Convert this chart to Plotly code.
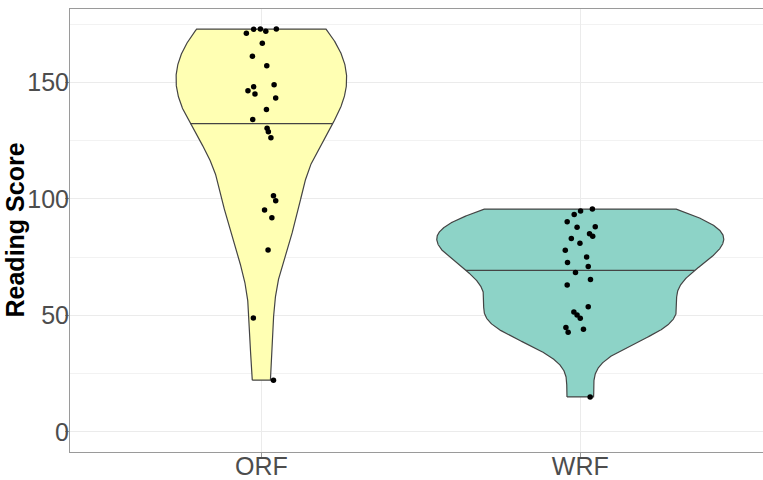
import numpy as np
import plotly.graph_objects as go

categories = ["ORF", "WRF"]
orf_scores = [171.1, 172.8, 172.9, 172.0, 172.9, 166.8, 161.2, 157.1, 149.0, 146.4,
              148.1, 145.0, 143.3, 138.4, 134.1, 130.3, 128.8, 126.2, 101.3, 99.2,
              95.2, 91.9, 78.1, 48.9, 22.2]
orf_jitter = [-0.047, -0.024, -0.003, 0.014, 0.047, 0.003, -0.028, 0.017, 0.040, -0.042,
              -0.024, -0.020, 0.045, 0.016, -0.027, 0.018, 0.022, 0.030, 0.038, 0.045,
              0.010, 0.033, 0.021, -0.025, 0.038]
wrf_scores = [95.6, 94.8, 93.3, 90.2, 87.8, 88.0, 85.0, 84.0, 83.0, 80.9,
              78.0, 75.1, 72.7, 71.0, 68.4, 65.4, 63.0, 53.7, 51.4, 50.2,
              48.8, 44.8, 42.8, 44.0, 15.0]
wrf_jitter = [0.038, 0.001, -0.019, -0.041, -0.010, 0.047, 0.029, 0.039, -0.028, -0.001,
              -0.047, 0.020, -0.040, 0.025, -0.015, 0.032, -0.041, 0.025, -0.020, -0.010,
              0.000, -0.045, -0.038, 0.010, 0.031]
fill_colors = ["#FFFFB3", "#8DD3C7"]
y_ticks = [0, 50, 100, 150]
y_minor = [25, 75, 125, 175]

scores = [orf_scores, wrf_scores]
jitters = [orf_jitter, wrf_jitter]


def ydensity(y, n=512):
    y = np.asarray(y, float)
    sd = y.std(ddof=1)
    q75, q25 = np.percentile(y, [75, 25])
    lo = min(sd, (q75 - q25) / 1.34)
    bw = 0.9 * lo * len(y) ** -0.2
    grid = np.linspace(y.min(), y.max(), n)
    dens = np.exp(-0.5 * ((grid[:, None] - y[None, :]) / bw) ** 2).sum(1) / (len(y) * bw * np.sqrt(2 * np.pi))
    return grid, dens


dens_list = [ydensity(s) for s in scores]
gmax = max(d.max() for _, d in dens_list)

fig = go.Figure()
outline = "#444444"
for i, ((grid, dens), col) in enumerate(zip(dens_list, fill_colors)):
    pos = i + 1
    hw = 0.45 * dens / gmax
    xs = np.concatenate([pos - hw, (pos + hw)[::-1], [pos - hw[0]]])
    ys = np.concatenate([grid, grid[::-1], [grid[0]]])
    fig.add_trace(go.Scatter(x=xs, y=ys, mode="lines", fill="toself", fillcolor=col,
                             line=dict(color=outline, width=1.2), hoverinfo="skip", showlegend=False))
    cdf = np.cumsum(dens) / dens.sum()
    ym = np.interp(0.5, cdf, grid)
    hwm = np.interp(ym, grid, hw)
    fig.add_trace(go.Scatter(x=[pos - hwm, pos + hwm], y=[ym, ym], mode="lines",
                             line=dict(color=outline, width=1.2), hoverinfo="skip", showlegend=False))

for i, (s, j) in enumerate(zip(scores, jitters)):
    pos = i + 1
    fig.add_trace(go.Scatter(x=[pos + v for v in j], y=s, mode="markers",
                             marker=dict(color="black", size=5.5), showlegend=False,
                             name=categories[i]))

border = "#9A9A9A"
tickfont = dict(family="Liberation Sans, Arial", size=25, color="#4D4D4D")
fig.update_layout(
    width=763, height=480,
    margin=dict(l=70, r=0, t=9, b=28),
    plot_bgcolor="white", paper_bgcolor="white",
    xaxis=dict(range=[0.4, 2.573], tickvals=[1, 2], ticktext=categories,
               showline=True, mirror=True, linecolor=border, linewidth=1,
               ticks="outside", ticklen=4, tickcolor=border,
               showgrid=True, gridcolor="#EBEBEB", gridwidth=1,
               zeroline=False, tickfont=tickfont, automargin=False,
               ticklabelstandoff=-12),
    yaxis=dict(range=[-8.65, 181.5], tickvals=y_ticks,
               showline=True, mirror=False, linecolor=border, linewidth=1,
               ticks="outside", ticklen=4, tickcolor=border,
               showgrid=True, gridcolor="#EBEBEB", gridwidth=1,
               minor=dict(tickvals=y_minor, showgrid=True, gridcolor="#F2F2F2", ticklen=0),
               zeroline=False, tickfont=tickfont, automargin=False,
               ticklabelstandoff=-9),
    annotations=[dict(text="<b>Reading Score</b>", textangle=-90, xref="paper", yref="paper",
                      x=-56 / 693, y=0.5, xanchor="center", yanchor="middle", showarrow=False,
                      font=dict(family="Liberation Sans, Arial", size=25, color="black"))],
)

fig.write_html("out.html")
